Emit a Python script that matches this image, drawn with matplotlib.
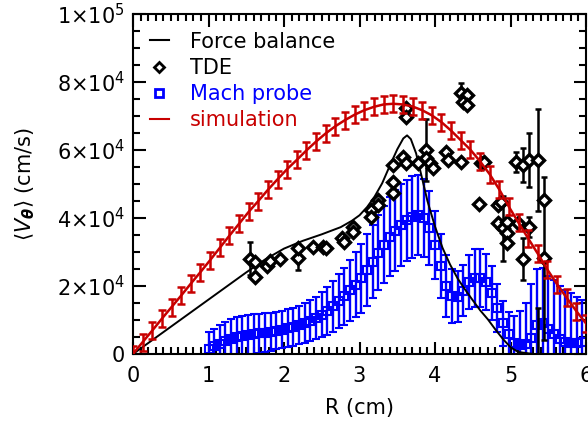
import numpy as np
import matplotlib
matplotlib.use('Agg')
import matplotlib.pyplot as plt
from matplotlib.lines import Line2D
from matplotlib.ticker import MultipleLocator

# simulacao (perfil com barras de erro)
r_sim = np.linspace(0, 6, 48)
v_sim = [0.0, 3.5, 6.9, 10.4, 13.8, 17.2, 20.7, 24.1, 27.6, 31.2, 34.8, 38.3,
         41.8, 45.0, 48.3, 51.4, 54.4, 57.1, 59.9, 62.5, 64.9, 67.0, 68.8, 70.4,
         71.7, 72.7, 73.4, 73.6, 73.4, 72.8, 71.7, 70.2, 68.2, 65.7, 62.9, 60.1,
         56.7, 52.9, 48.4, 43.3, 38.6, 34.0, 29.5, 24.8, 20.5, 16.5, 12.6, 9.0]
err_sim = 2.5

# balanco de forcas
r_fb = [0, 0.25, 0.5, 0.75, 1.0, 1.25, 1.5, 1.75, 2.0, 2.25, 2.5, 2.75, 2.9, 3.0,
        3.1, 3.2, 3.3, 3.4, 3.5, 3.58, 3.63, 3.68, 3.75, 3.82, 3.9, 4.0, 4.1,
        4.2, 4.3, 4.4, 4.5, 4.6, 4.7, 4.8, 4.9, 5.0, 5.1, 5.3, 5.6, 6.0]
v_fb = [0, 4.0, 8.0, 12.0, 16.0, 20.0, 24.0, 27.8, 31.0, 33.3, 35.2, 37.3, 39.2,
        40.8, 43.2, 46.3, 50.2, 55.3, 60.2, 63.4, 64.3, 63.2, 59.0, 52.5, 45.0,
        37.5, 31.2, 26.3, 22.2, 18.9, 15.8, 12.8, 10.2, 7.2, 4.4, 2.0, 0.6, 0,
        0, 0]

# TDE
r_tde = [1.55, 1.62, 1.62, 1.77, 1.82, 1.95, 2.18, 2.19, 2.38, 2.52, 2.55, 2.77,
         2.79, 2.92, 2.92, 3.15, 3.15, 3.24, 3.25, 3.45, 3.45, 3.45, 3.58, 3.61,
         3.61, 3.61, 3.77, 3.88, 3.88, 3.94, 3.97, 4.14, 4.17, 4.34, 4.34, 4.43,
         4.37, 4.43, 4.61, 4.65, 4.58, 4.83, 4.87, 4.83, 4.90, 4.96, 4.96, 4.96,
         5.07, 5.16, 5.24, 5.36, 5.10, 5.16, 5.24, 5.44, 5.44, 5.36]
v_tde = [28.0, 27.1, 22.6, 25.9, 27.4, 27.9, 28.1, 31.2, 31.5, 31.5, 31.2, 34.1,
         32.9, 37.4, 35.9, 42.4, 40.3, 45.3, 43.8, 47.4, 50.6, 55.6, 57.9, 56.2,
         72.4, 69.7, 56.2, 60.0, 57.6, 56.2, 54.7, 59.4, 57.1, 56.5, 76.8, 76.2,
         74.1, 73.2, 56.2, 56.5, 44.1, 43.8, 44.7, 38.5, 37.0, 38.8, 35.6, 32.6,
         56.5, 55.6, 57.1, 57.1, 38.5, 27.9, 37.4, 45.3, 28.2, -3.0]
err_tde = [4.8, 0, 0, 0, 0, 0, 3.4, 0, 0, 0, 0, 0,
           0, 0, 0, 0, 0, 0, 0, 0, 0, 0, 0, 0,
           0, 0, 0, 9.0, 0, 0, 0, 0, 0, 0, 3.0, 0,
           0, 0, 0, 0, 0, 0, 0, 0, 9.5, 0, 0, 0,
           3.0, 5.0, 8.0, 15.0, 0, 6.2, 3.0, 0, 24.0, 16.5]

# sonda de Mach
r_mach = np.linspace(1.0, 5.95, 67)
v_mach = [1.5, 2.3, 3.0, 3.8, 4.5, 4.9, 5.2, 5.5, 5.8, 6.1, 6.3, 6.6, 6.9, 7.2,
          7.6, 8.0, 8.5, 9.2, 9.8, 10.6, 11.6, 12.6, 14.0, 15.5, 17.0, 18.7,
          20.4, 22.3, 24.7, 27.2, 29.8, 32.2, 34.5, 36.3, 38.0, 39.3, 40.3, 40.8,
          40.0, 37.0, 32.0, 26.0, 20.0, 17.0, 16.8, 18.6, 21.2, 22.4, 22.3, 21.2,
          18.0, 13.5, 9.0, 5.8, 3.2, 2.6, 3.0, 4.6, 8.5, 9.2, 7.5, 5.8, 4.4, 3.4,
          3.2, 3.2, 3.5]
err_mach = [5.0, 5.2, 5.4, 5.6, 5.8, 6.0, 6.0, 6.0, 5.9, 5.8, 5.7, 5.6, 5.5, 5.5,
            5.5, 5.6, 5.7, 5.9, 6.1, 6.3, 6.6, 7.0, 7.4, 7.9, 8.4, 9.0, 9.6,
            10.1, 10.5, 10.8, 11.0, 11.3, 11.6, 11.8, 12.0, 12.0, 12.0, 11.8,
            11.4, 10.8, 10.0, 9.4, 9.0, 8.0, 7.5, 7.5, 8.0, 8.5, 8.5, 8.3, 8.0,
            7.0, 6.5, 6.5, 8.0, 10.0, 12.0, 16.0, 16.5, 16.0, 15.5, 16.0, 15.5,
            15.5, 14.8, 13.5, 12.5]

azul = '#0000ff'
vermelho = '#c80000'

plt.rcParams['font.family'] = 'DejaVu Sans'
fig = plt.figure(figsize=(5.88, 4.25), dpi=100)
ax = fig.add_axes([133 / 588, 1 - 354 / 425, 453 / 588, 340 / 425])

k = 1e3
ax.errorbar(r_mach, np.array(v_mach) * k, yerr=np.array(err_mach) * k, fmt='s',
            color=azul, mfc='none', mec=azul, ms=6, mew=1.5, elinewidth=1.7,
            capsize=3, capthick=1.7, zorder=2)
ax.plot(r_fb, np.array(v_fb) * k, color='black', lw=1.4, zorder=3)

v_tde_a = np.array(v_tde) * k
e_tde_a = np.array(err_tde) * k
tem_erro = e_tde_a > 0
ax.errorbar(np.array(r_tde)[tem_erro], v_tde_a[tem_erro], yerr=e_tde_a[tem_erro],
            fmt='none', ecolor='black', elinewidth=1.8, capsize=2.5, capthick=1.8,
            zorder=4)
ax.plot(r_tde, v_tde_a, 'D', color='black', mfc='white', mec='black', ms=6,
        mew=2.4, zorder=5)

ax.plot(r_sim, np.array(v_sim) * k, color=vermelho, lw=1.8, zorder=6)
ax.errorbar(r_sim, np.array(v_sim) * k, yerr=err_sim * k, fmt='none',
            ecolor=vermelho, elinewidth=1.8, capsize=3.2, capthick=1.8, zorder=6)

ax.set_xlim(0, 6)
ax.set_ylim(0, 1e5)
ax.set_xticks([0, 1, 2, 3, 4, 5, 6])
ax.set_xticklabels(['0', '1', '2', '3', '4', '5', '6'])
ax.set_yticks([0, 2e4, 4e4, 6e4, 8e4, 1e5])
ax.set_yticklabels(['0', r'$2{\times}10^4$', r'$4{\times}10^4$', r'$6{\times}10^4$',
                    r'$8{\times}10^4$', r'$1{\times}10^5$'])
ax.xaxis.set_minor_locator(MultipleLocator(0.1))
ax.yaxis.set_minor_locator(MultipleLocator(5e3))
ax.tick_params(which='both', direction='in', top=True, right=True, width=1.5,
               labelsize=15)
ax.tick_params(which='major', length=9)
ax.tick_params(which='minor', length=5)
ax.tick_params(axis='x', pad=9)
ax.tick_params(axis='y', pad=6)
for s in ax.spines.values():
    s.set_linewidth(1.5)

ax.set_xlabel('R (cm)', fontsize=15, labelpad=8)
ax.set_ylabel(r'$\langle V_{\boldsymbol{\theta}} \rangle$ (cm/s)', fontsize=15,
              labelpad=14)

handles = [Line2D([], [], color='black', lw=1.5),
           Line2D([], [], ls='none', marker='D', mfc='white', mec='black', ms=5, mew=2),
           Line2D([], [], ls='none', marker='s', mfc='white', mec=azul, ms=6, mew=2),
           Line2D([], [], color=vermelho, lw=1.5)]
labels = ['Force balance', 'TDE', 'Mach probe', 'simulation']
leg = ax.legend(handles, labels, loc='upper left', bbox_to_anchor=(0.01, 0.985),
                frameon=False, fontsize=15, handlelength=0.9, handletextpad=1.0,
                labelspacing=0.3, borderaxespad=0.2)
for txt, cor in zip(leg.get_texts(), ['black', 'black', azul, vermelho]):
    txt.set_color(cor)

fig.savefig('out.png', dpi=100)
